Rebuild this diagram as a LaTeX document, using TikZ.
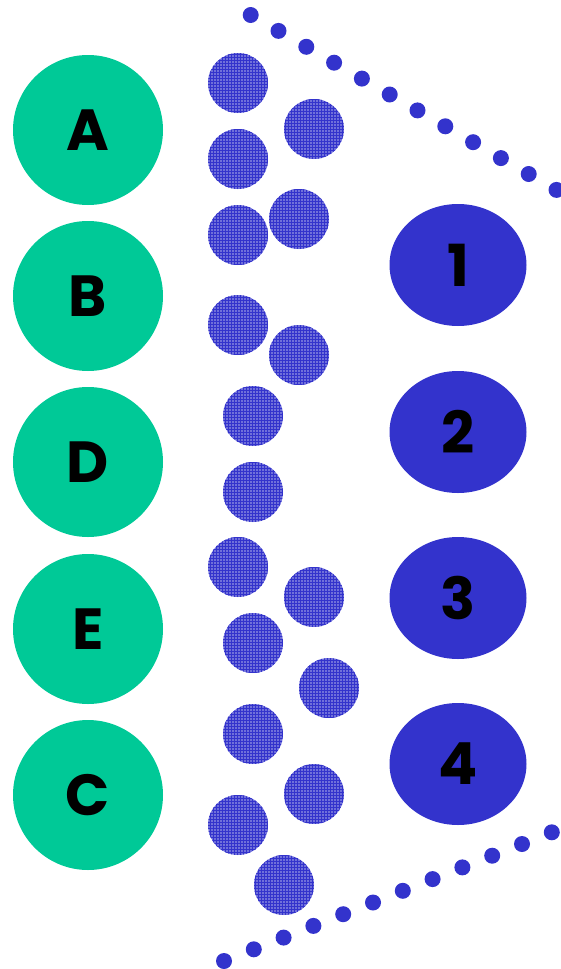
\documentclass[tikz,border=0pt]{standalone}
\usepackage{fontspec}
\setmainfont{Poppins}
\usetikzlibrary{patterns}
\definecolor{grn}{HTML}{00C997}
\definecolor{blu}{HTML}{3333CC}
\definecolor{lblu}{HTML}{7070DA}
\tikzset{
  gcirc/.style={circle, fill=grn, minimum size=150pt, inner sep=0pt, font=\fontsize{58}{58}\selectfont\bfseries},
  bell/.style={ellipse, fill=blu, minimum width=137pt, minimum height=122pt, inner sep=0pt, font=\fontsize{58}{58}\selectfont\bfseries},
  tex/.style={fill=lblu},
  texp/.style={pattern=grid, pattern color=blu},
  dotc/.style={fill=blu}
}
\usetikzlibrary{shapes.geometric}
\begin{document}
\begin{tikzpicture}[x=1pt,y=-1pt]
\useasboundingbox (0,0) rectangle (561,969);
% green circles
\node[gcirc] (A) at (88,130) {A};
\node[gcirc] (B) at (88,296) {B};
\node[gcirc] (D) at (88,462) {D};
\node[gcirc] (E) at (88,629) {E};
\node[gcirc] (C) at (88,795) {C};
% blue ellipses
\node[bell] (n1) at (458,265) {1};
\node[bell] (n2) at (458,432) {2};
\node[bell] (n3) at (458,598) {3};
\node[bell] (n4) at (458,764) {4};
% textured circles
\foreach \x/\y in {238/83,314/129,238/159,299/219,238/235,238/325,299/355,253/416,253/492,238/567,314/597,253/643,329/688,253/734,314/794,238/825,284/885}{
  \fill[tex] (\x,\y) circle (30);
  \fill[texp] (\x,\y) circle (30);
}
% top dotted line
\foreach \i in {0,...,11}{
  \fill[dotc] ({250.7+\i*27.8},{15+\i*15.9}) circle (8);
}
% bottom dotted line
\foreach \i in {0,...,11}{
  \fill[dotc] ({224+\i*29.8},{961-\i*11.7}) circle (8);
}
\end{tikzpicture}
\end{document}
